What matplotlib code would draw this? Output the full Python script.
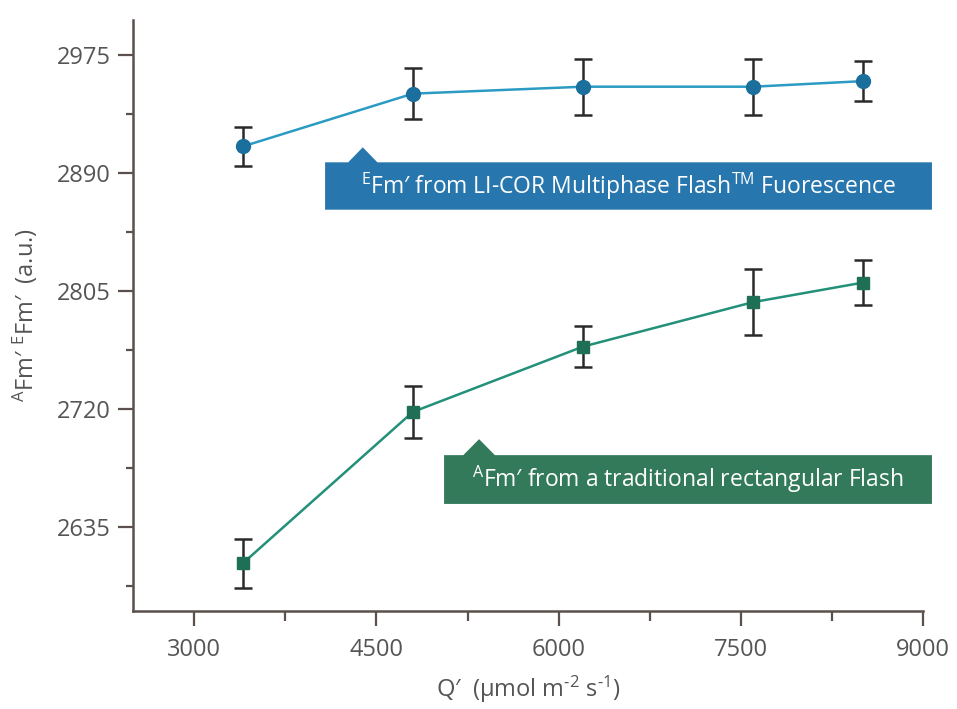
import matplotlib

matplotlib.use("Agg")
import matplotlib.pyplot as plt
from matplotlib.patches import Polygon
from matplotlib.ticker import MultipleLocator

# Measurement points (Q' in umol m-2 s-1)
q_values = [3400, 4800, 6200, 7600, 8500]

# EFm' from the multiphase flash
efm = [2909, 2947, 2952, 2952, 2956]
efm_err = [14, 18.5, 20, 20, 14.5]

# AFm' from a rectangular flash
afm = [2609, 2718, 2765, 2797, 2811]
afm_err = [17.5, 18.5, 14.5, 24, 16]

x_ticks = [3000, 4500, 6000, 7500, 9000]
y_ticks = [2635, 2720, 2805, 2890, 2975]

BLUE_LINE = "#2b9bc4"
BLUE_MARK = "#1b6f9c"
BLUE_BOX = "#2776ad"
GREEN_LINE = "#23907a"
GREEN_MARK = "#1f6f56"
GREEN_BOX = "#327a5a"
AXIS = "#5b504c"
TEXT = "#555555"

plt.rcParams.update({
    "font.family": "Open Sans",
    "mathtext.fontset": "custom",
    "mathtext.rm": "Open Sans",
    "mathtext.it": "Open Sans",
    "mathtext.bf": "Open Sans",
})

fig = plt.figure(figsize=(9.57, 7.09), dpi=100)
ax = fig.add_axes([0.1393, 0.1387, 0.8255, 0.8331])

ax.errorbar(q_values, efm, yerr=efm_err, color=BLUE_LINE, lw=1.8,
            marker="o", ms=10, mfc=BLUE_MARK, mec=BLUE_MARK,
            ecolor="#2a2a2a", elinewidth=1.8, capsize=6.5, capthick=1.8, zorder=3)
ax.errorbar(q_values, afm, yerr=afm_err, color=GREEN_LINE, lw=1.8,
            marker="s", ms=9, mfc=GREEN_MARK, mec=GREEN_MARK,
            ecolor="#2a2a2a", elinewidth=1.8, capsize=6.5, capthick=1.8, zorder=3)

ax.set_xlim(2500, 9000)
ax.set_ylim(2575, 3000)
ax.set_xticks(x_ticks)
ax.set_yticks(y_ticks)
ax.xaxis.set_minor_locator(MultipleLocator(750))
ax.set_yticks([2592.5, 2677.5, 2762.5, 2847.5, 2932.5], minor=True)

for side in ("top", "right"):
    ax.spines[side].set_visible(False)
for side in ("left", "bottom"):
    ax.spines[side].set_color(AXIS)
    ax.spines[side].set_linewidth(1.8)

ax.tick_params(axis="both", which="major", direction="out", length=11, width=1.6,
               color=AXIS, labelsize=17, labelcolor=TEXT, pad=5)
ax.tick_params(axis="y", which="minor", direction="out", length=5, width=1.6, color=AXIS)
ax.tick_params(axis="x", which="minor", direction="out", length=7, width=1.6, color=AXIS)
ax.tick_params(axis="x", which="major", pad=9)

ax.set_xlabel("Q′  (µmol m$^{\\mathrm{‐2}}$ s$^{\\mathrm{‐1}}$)", fontsize=17,
              color=TEXT, labelpad=8)
ax.set_ylabel(r"$^{\mathrm{A}}$Fm′ $^{\mathrm{E}}$Fm′  (a.u.)", fontsize=17,
              color=TEXT, labelpad=12)


def callout(x0, x1, y0, y1, tip_x, tip_y, half, color, label):
    pts = [(x0, y0), (x1, y0), (x1, y1), (tip_x + half, y1), (tip_x, tip_y),
           (tip_x - half, y1), (x0, y1)]
    ax.add_patch(Polygon(pts, closed=True, facecolor=color, edgecolor="none",
                         clip_on=False, zorder=4))
    ax.text((x0 + x1) / 2, (y0 + y1) / 2, label, color="white", fontsize=16.5,
            ha="center", va="center", zorder=5)


callout(4078, 9071, 2863.5, 2897.6, 4388, 2908.4, 120, BLUE_BOX,
        r"$^{\mathrm{E}}$Fm′ from LI-COR Multiphase Flash$^{\mathrm{TM}}$ Fuorescence")
callout(5057, 9071, 2651.8, 2686.9, 5345, 2698.4, 130, GREEN_BOX,
        r"$^{\mathrm{A}}$Fm′ from a traditional rectangular Flash")

fig.savefig("out.png", dpi=100)
